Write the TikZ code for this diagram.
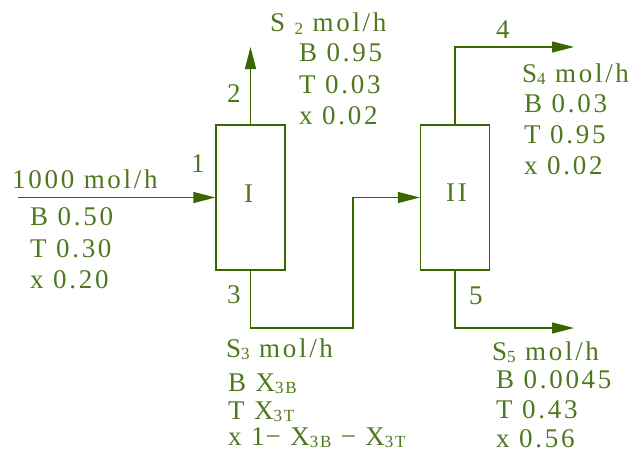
\documentclass[tikz,border=0pt]{standalone}
\usepackage{fontspec}
\setmainfont{Liberation Serif}[LetterSpace=10]
\usetikzlibrary{arrows.meta}
\definecolor{txtgreen}{RGB}{78,120,30}
\definecolor{lngreen}{RGB}{58,102,0}
\newcommand\lowsub[1]{\raisebox{-2pt}{\fontsize{17}{17}\selectfont #1}}
\begin{document}
\begin{tikzpicture}[x=1pt,y=-1pt,
  unitbox/.style={draw=lngreen,line width=1.3pt,minimum width=69pt,minimum height=145pt,inner sep=0pt},
  flow/.style={draw=lngreen,line width=1.3pt},
  flowarr/.style={flow,-{Triangle[length=22pt,width=11pt]}},
  lbl/.style={anchor=base west,inner sep=0pt,text=txtgreen,font=\fontsize{27}{27}\selectfont}]
\useasboundingbox (0,0) rectangle (639,452);
\node[unitbox] (b1) at (250.5,197.5) {};
\node[unitbox] (b2) at (455,197.5) {};
\node[lbl] (tI) at (244,202) {I};
\node[lbl] (tII) at (446,201) {II};
\coordinate (f1) at (18,197.5);
\coordinate (t2) at (250.5,47);
\coordinate (c3) at (353,328);
\coordinate (t4) at (574,47);
\coordinate (t5) at (574,328);
\draw[flowarr] (f1) -- (b1.west);
\draw[flowarr] (b1.north) -- (t2);
\draw[flowarr] (b1.south) |- (c3) |- (b2.west);
\draw[flowarr] (b2.north) |- (t4);
\draw[flowarr] (b2.south) |- (t5);
% stream numbers
\node[lbl] (n1) at (191,172) {1};
\node[lbl] (n2) at (227,102) {2};
\node[lbl] (n3) at (227,303) {3};
\node[lbl] (n4) at (496,38) {4};
\node[lbl] (n5) at (469,304) {5};
% feed
\node[lbl] (fa) at (12,188) {1000 mol/h};
\node[lbl] (fb) at (30,225) {B 0.50};
\node[lbl] (fc) at (30,257) {T 0.30};
\node[lbl] (fd) at (30,288) {x 0.20};
% S2
\node[lbl] (sa) at (270,32) {S \lowsub{2} mol/h};
\node[lbl] (sb) at (299,62) {B 0.95};
\node[lbl] (sc) at (299,93) {T 0.03};
\node[lbl] (sd) at (299,124) {x 0.02};
% S4
\node[lbl] (qa) at (522,82) {S\lowsub{4} mol/h};
\node[lbl] (qb) at (524,112) {B 0.03};
\node[lbl] (qc) at (524,143) {T 0.95};
\node[lbl] (qd) at (524,174) {x 0.02};
% S3
\node[lbl] (ra) at (226,357) {S\lowsub{3} mol/h};
\node[lbl] (rb) at (228,391) {B X\lowsub{3B}};
\node[lbl] (rc) at (228,419) {T X\lowsub{3T}};
\node[lbl] (rd) at (228,445) {x 1{\kern1pt}− X\lowsub{3B} − X\lowsub{3T}};
% S5
\node[lbl] (pa) at (492,360) {S\lowsub{5} mol/h};
\node[lbl] (pb) at (496,388) {B 0.0045};
\node[lbl] (pc) at (496,418) {T 0.43};
\node[lbl] (pd) at (496,447) {x 0.56};
\end{tikzpicture}
\end{document}
